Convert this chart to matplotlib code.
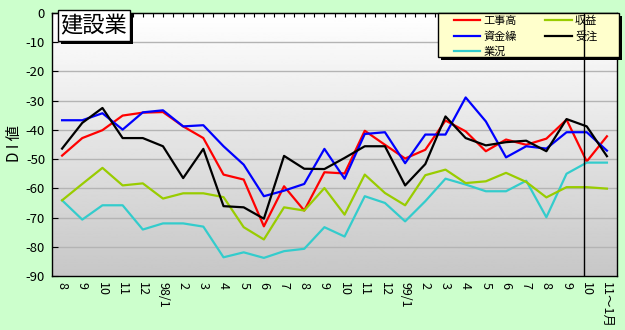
import matplotlib

matplotlib.use("Agg")
import matplotlib.pyplot as plt
import numpy as np
from matplotlib.patches import Rectangle

plt.rcParams["font.family"] = ["Noto Sans CJK JP", "DejaVu Sans"]

# --- data (DI values) --------------------------------------------------------
months = ["8", "9", "10", "11", "12", "98/1", "2", "3", "4", "5", "6", "7",
          "8", "9", "10", "11", "12", "99/1", "2", "3", "4", "5", "6", "7",
          "8", "9", "10", "11～1月"]

koujidaka = [-48.8, -42.8, -40.1, -35.1, -34.1, -33.9, -38.8, -42.8, -55.3, -57.0,
             -73.0, -59.3, -67.6, -54.5, -54.9, -40.3, -45.1, -49.8, -46.8, -36.8,
             -40.5, -47.3, -43.3, -45.1, -43.0, -36.5, -50.8, -42.2]
shikinguri = [-36.7, -36.7, -34.3, -39.9, -34.0, -33.3, -38.8, -38.4, -45.6, -51.9,
              -62.7, -60.8, -58.5, -46.5, -56.7, -41.4, -40.8, -51.4, -41.6, -41.6,
              -28.9, -37.1, -49.4, -45.6, -46.4, -40.8, -40.8, -47.1]
gyoukyou = [-64.1, -70.7, -65.8, -65.8, -74.1, -72.0, -72.0, -73.1, -83.6, -81.9,
            -83.8, -81.5, -80.7, -73.3, -76.5, -62.7, -65.0, -71.3, -64.4, -56.7,
            -58.7, -61.0, -61.0, -57.4, -69.9, -55.0, -51.2, -51.2]
shueki = [-64.1, -58.5, -53.0, -59.0, -58.3, -63.5, -61.7, -61.7, -63.0, -73.3,
          -77.5, -66.5, -67.6, -59.9, -69.0, -55.3, -61.6, -65.8, -55.5, -53.6,
          -58.2, -57.6, -54.7, -57.8, -63.1, -59.6, -59.6, -60.1]
juchuu = [-46.4, -37.6, -32.5, -42.8, -42.8, -45.6, -56.5, -46.5, -66.1, -66.5,
          -70.4, -48.9, -53.3, -53.4, -49.6, -45.6, -45.6, -59.0, -51.7, -35.4,
          -42.8, -45.3, -44.2, -43.7, -47.3, -36.3, -38.8, -49.0]

# legend order: matplotlib fills column by column
series = [("工事高", koujidaka, "#ff0000"),
          ("資金繰", shikinguri, "#0000ff"),
          ("業況", gyoukyou, "#33cccc"),
          ("収益", shueki, "#99cc00"),
          ("受注", juchuu, "#000000")]

W, H = 625, 330
fig = plt.figure(figsize=(W / 100, H / 100), dpi=100, facecolor="#ccffcc")
ax = fig.add_axes([52 / W, 1 - 276 / H, 565 / W, 263 / H])

x = np.arange(len(months))
ax.set_xlim(-0.5, len(months) - 0.5)
ax.set_ylim(-90, 0)

# plot-area gradient (white at top -> grey at bottom)
grad = np.linspace(1.0, 0.78, 256).reshape(-1, 1)
ax.imshow(grad, cmap="gray", vmin=0, vmax=1, aspect="auto",
          extent=[0, 1, 0, 1], transform=ax.transAxes, zorder=0)

for v in range(-80, 0, 10):
    ax.axhline(v, color="#b4b4b4", lw=1, zorder=1)

for name, vals, col in series:
    ax.plot(x, vals, color=col, lw=1.6, label=name, zorder=3)

ax.axvline(25.86, color="black", lw=1, zorder=7)

ax.set_yticks(range(-90, 1, 10))
ax.set_yticklabels([str(v) for v in range(-90, 1, 10)], fontsize=9.5)
ax.tick_params(axis="y", direction="in", length=4, pad=5)
ax.set_xticks(x)
ax.set_xticklabels(months, rotation=270, fontsize=9)
ax.tick_params(axis="x", length=0, pad=4)
for lab in ax.get_xticklabels():
    lab.set_verticalalignment("top")

# small ticks along the top edge
top = ax.secondary_xaxis("top")
top.set_xticks(np.arange(-0.5, len(months), 0.5))
top.set_xticklabels([])
top.tick_params(direction="in", length=3)

for s in ax.spines.values():
    s.set_color("black")
    s.set_linewidth(1)

# legend box (drawn by hand so the vertical line can pass over it)
ax.add_patch(Rectangle((441 / W, 1 - 60 / H), 181 / W, 44 / H, transform=fig.transFigure,
                       fc="black", ec="none", zorder=5, clip_on=False))
ax.add_patch(Rectangle((438 / W, 1 - 57 / H), 181 / W, 44 / H, transform=fig.transFigure,
                       fc="#ffffcc", ec="black", lw=1, zorder=5, clip_on=False))
leg = ax.legend(ncol=2, loc="upper left", bbox_to_anchor=(451 / W, 1 - 13 / H),
                bbox_transform=fig.transFigure, frameon=False, borderaxespad=0,
                fontsize=8, handlelength=2.4, handletextpad=0.25,
                labelspacing=0.45, borderpad=0.25, columnspacing=2.6)
leg.set_zorder(6)

# title box with shadow
fig.patches.append(Rectangle((61 / W, 1 - 44 / H), 72 / W, 31 / H,
                             transform=fig.transFigure, fc="black", ec="none", zorder=8))
fig.patches.append(Rectangle((58 / W, 1 - 41 / H), 72 / W, 31 / H,
                             transform=fig.transFigure, fc="white", ec="black",
                             lw=1, zorder=9))
fig.text(94 / W, 1 - 26 / H, "建設業", fontsize=16, ha="center", va="center", zorder=10)

fig.text(14 / W, 1 - 143 / H, "D I 値", rotation=90, fontsize=11,
         ha="center", va="center")

fig.savefig("out.png", dpi=100, facecolor=fig.get_facecolor())
